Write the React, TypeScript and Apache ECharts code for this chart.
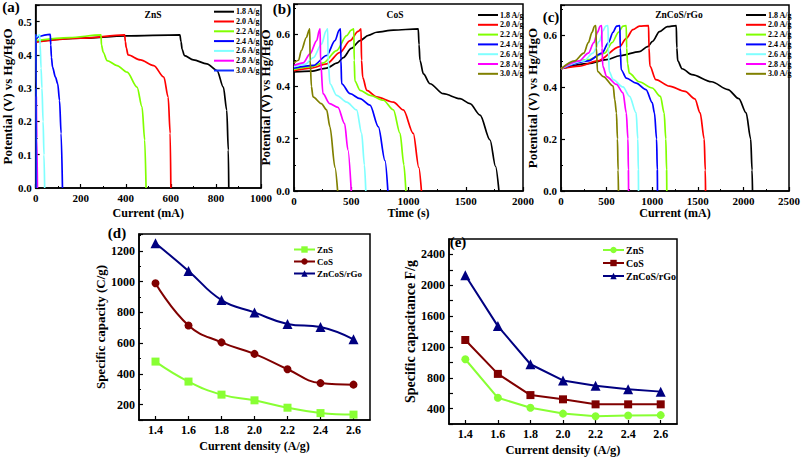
import React, { useEffect, useRef } from 'react';
import * as echarts from 'echarts';

const FONT = '"Liberation Serif", "Times New Roman", serif';

const rateLabels = ['1.8 A/g', '2.0 A/g', '2.2 A/g', '2.4 A/g', '2.6 A/g', '2.8 A/g', '3.0 A/g'];
const colorsA = ['#000000', '#ff0000', '#80ff00', '#0000ff', '#80ffff', '#ff00ff', '#1030ff'];
const colorsBC = ['#000000', '#ff0000', '#80ff00', '#0000ff', '#80ffff', '#ff00ff', '#808000'];

// (a) ZnS  [current (mA), potential (V)]
const a18 = [[0, 0.44], [200, 0.45], [400, 0.457], [640, 0.46], [645, 0.44], [650, 0.417], [660, 0.398], [700, 0.385], [760, 0.373], [805, 0.353], [833, 0.303], [848, 0.234], [855, 0.114], [857, 0]];
const a20 = [[0, 0.438], [200, 0.45], [395, 0.46], [398, 0.44], [402, 0.422], [410, 0.4], [465, 0.385], [524, 0.368], [569, 0.333], [588, 0.273], [597, 0.164], [600, 0]];
const a22 = [[0, 0.443], [150, 0.452], [290, 0.46], [292, 0.43], [300, 0.408], [317, 0.383], [361, 0.368], [406, 0.348], [450, 0.303], [472, 0.244], [484, 0.144], [490, 0]];
const a24 = [[0, 0.452], [65, 0.462], [67, 0.43], [70, 0.393], [75, 0.363], [88, 0.333], [98, 0.313], [106, 0.263], [113, 0.164], [119, 0]];
const a26 = [[0, 0.452], [18, 0.46], [20, 0.43], [24, 0.36], [28, 0.3], [33, 0.2], [37, 0.1], [40, 0]];
const a28 = [[3, 0.275], [5, 0.15], [8, 0]];
const a30 = [[1, 0.462], [2, 0.3], [3, 0]];

// (b) CoS  [time (s), potential (V)]
const b18 = [[0, 0.455], [150, 0.458], [285, 0.47], [380, 0.49], [431, 0.51], [500, 0.545], [577, 0.575], [650, 0.595], [722, 0.607], [868, 0.615], [1085, 0.62], [1092, 0.56], [1100, 0.5], [1130, 0.448], [1188, 0.41], [1304, 0.372], [1450, 0.353], [1537, 0.334], [1625, 0.29], [1712, 0.195], [1760, 0.094], [1790, 0]];
const b20 = [[0, 0.46], [150, 0.47], [285, 0.486], [402, 0.53], [490, 0.575], [560, 0.61], [585, 0.62], [590, 0.5], [600, 0.435], [635, 0.385], [722, 0.36], [868, 0.34], [955, 0.31], [1042, 0.22], [1090, 0.09], [1113, 0]];
const b22 = [[0, 0.465], [150, 0.475], [256, 0.49], [372, 0.537], [460, 0.594], [500, 0.615], [522, 0.62], [526, 0.5], [532, 0.42], [577, 0.385], [664, 0.366], [780, 0.347], [868, 0.31], [926, 0.22], [960, 0.1], [977, 0]];
const b24 = [[0, 0.47], [169, 0.48], [285, 0.518], [358, 0.575], [395, 0.615], [406, 0.62], [410, 0.5], [416, 0.41], [490, 0.372], [577, 0.353], [664, 0.328], [737, 0.245], [795, 0.116], [820, 0]];
const b26 = [[0, 0.475], [100, 0.485], [169, 0.51], [241, 0.562], [280, 0.612], [294, 0.62], [298, 0.5], [314, 0.41], [372, 0.366], [460, 0.34], [547, 0.31], [591, 0.22], [615, 0.1], [627, 0]];
const b28 = [[0, 0.48], [80, 0.49], [140, 0.524], [198, 0.575], [222, 0.615], [228, 0.62], [232, 0.5], [253, 0.372], [311, 0.334], [384, 0.32], [442, 0.258], [471, 0.157], [500, 0]];
const b30 = [[0, 0.49], [40, 0.5], [64, 0.537], [108, 0.587], [132, 0.615], [137, 0.62], [141, 0.5], [152, 0.4], [166, 0.36], [239, 0.334], [285, 0.31], [314, 0.245], [358, 0.09], [381, 0]];

// (c) ZnCoS/rGo  [current (mA), potential (V)]
const c18 = [[0, 0.47], [300, 0.49], [500, 0.505], [644, 0.52], [860, 0.536], [950, 0.555], [1004, 0.575], [1080, 0.613], [1166, 0.632], [1264, 0.636], [1270, 0.55], [1280, 0.5], [1328, 0.47], [1436, 0.447], [1650, 0.42], [1830, 0.39], [1950, 0.355], [2030, 0.3], [2080, 0.2], [2095, 0.08], [2100, 0]];
const c20 = [[0, 0.47], [200, 0.48], [400, 0.5], [644, 0.555], [716, 0.587], [788, 0.62], [860, 0.634], [960, 0.636], [965, 0.55], [975, 0.48], [1040, 0.428], [1188, 0.403], [1360, 0.383], [1468, 0.354], [1526, 0.3], [1570, 0.2], [1582, 0.08], [1585, 0]];
const c22 = [[0, 0.47], [300, 0.505], [480, 0.53], [560, 0.57], [630, 0.61], [680, 0.634], [715, 0.636], [720, 0.55], [730, 0.49], [749, 0.453], [857, 0.42], [1000, 0.396], [1090, 0.364], [1131, 0.3], [1149, 0.2], [1158, 0.08], [1160, 0]];
const c24 = [[0, 0.47], [300, 0.5], [450, 0.53], [520, 0.57], [570, 0.61], [610, 0.634], [645, 0.636], [650, 0.55], [660, 0.466], [716, 0.434], [824, 0.415], [932, 0.39], [1000, 0.34], [1025, 0.3], [1048, 0.2], [1056, 0.08], [1058, 0]];
const c26 = [[0, 0.47], [250, 0.5], [350, 0.53], [420, 0.575], [460, 0.615], [490, 0.634], [515, 0.636], [520, 0.55], [528, 0.46], [572, 0.428], [680, 0.4], [752, 0.364], [824, 0.3], [842, 0.2], [848, 0.08], [850, 0]];
const c28 = [[0, 0.47], [200, 0.5], [300, 0.53], [360, 0.57], [400, 0.61], [430, 0.634], [446, 0.636], [450, 0.55], [458, 0.48], [500, 0.44], [608, 0.41], [680, 0.377], [716, 0.3], [734, 0.2], [739, 0.08], [741, 0]];
const c30 = [[0, 0.47], [150, 0.5], [250, 0.53], [300, 0.57], [340, 0.61], [368, 0.634], [382, 0.636], [388, 0.55], [400, 0.46], [464, 0.44], [572, 0.403], [590, 0.35], [608, 0.3], [619, 0.2], [626, 0.08], [630, 0]];

// (d), (e)
const currentDensity = ['1.4', '1.6', '1.8', '2.0', '2.2', '2.4', '2.6'];
const capacityZnS = [480, 350, 265, 228, 180, 145, 135];
const capacityCoS = [990, 715, 605, 530, 430, 340, 330];
const capacityZnCoS = [1250, 1070, 880, 800, 725, 705, 625];
const capacitanceZnS = [1040, 540, 410, 335, 300, 310, 315];
const capacitanceCoS = [1290, 850, 575, 520, 455, 455, 455];
const capacitanceZnCoS = [2130, 1470, 975, 765, 695, 650, 620];

const matColors = { ZnS: '#88ff33', CoS: '#800000', ZnCoS: '#000080' };

const stepFmt = (step: number, dec: number) => (v: number) =>
  Math.abs(v / step - Math.round(v / step)) < 1e-6 ? v.toFixed(dec) : '';

const labelStyle = (fontSize: number) => ({
  color: '#000', fontFamily: FONT, fontWeight: 'bold', fontSize, margin: 4,
});

const axisBase = (fontSize: number, name: string, nameSize: number, nameGap: number) => ({
  name,
  nameLocation: 'middle',
  nameGap,
  nameTextStyle: { color: '#000', fontFamily: FONT, fontWeight: 'bold', fontSize: nameSize },
  axisLine: { show: true, onZero: false, lineStyle: { color: '#000', width: 1.5 } },
  axisTick: { show: true, inside: true, length: 4, lineStyle: { color: '#000', width: 1.2 } },
  minorTick: { show: true, splitNumber: 2, length: 2, lineStyle: { color: '#000', width: 1 } },
  splitLine: { show: false },
  minorSplitLine: { show: false },
  axisLabel: labelStyle(fontSize),
});

const gridBase = { show: true, borderColor: '#000', borderWidth: 1.5, containLabel: false };

const gcdSeries = (curves: number[][][], colors: string[], tag: string, idx: number) =>
  curves.map((data, i) => ({
    type: 'line',
    name: tag + '|' + rateLabels[i],
    xAxisIndex: idx,
    yAxisIndex: idx,
    data,
    symbol: 'none',
    smooth: 0.3,
    smoothMonotone: 'x',
    lineStyle: { color: colors[i], width: 1.7 },
    itemStyle: { color: colors[i] },
    z: 2 + i,
  }));

const gcdLegend = (tag: string, left: number, top: number) => ({
  orient: 'vertical',
  left,
  top,
  padding: 0,
  itemWidth: 20,
  itemHeight: 8,
  itemGap: 1.8,
  itemStyle: { opacity: 0 },
  data: rateLabels.map((r) => tag + '|' + r),
  formatter: (n: string) => n.split('|')[1],
  textStyle: { color: '#000', fontFamily: FONT, fontWeight: 'bold', fontSize: 8, padding: [0, 0, 0, -3] },
});

const matLegend = (tag: string, left: number, top: number, fontSize: number) => ({
  orient: 'vertical',
  left,
  top,
  padding: 0,
  itemWidth: 21,
  itemHeight: 8,
  itemGap: 3,
  data: ['ZnS', 'CoS', 'ZnCoS/rGo'].map((r) => tag + '|' + r),
  formatter: (n: string) => n.split('|')[1],
  textStyle: { color: '#000', fontFamily: FONT, fontWeight: 'bold', fontSize, padding: [0, 0, 0, -3] },
});

const matSeries = (
  vals: number[][],
  names: string[],
  symbols: string[],
  colors: string[],
  tag: string,
  idx: number,
  smooth: boolean
) =>
  vals.map((data, i) => ({
    type: 'line',
    name: tag + '|' + names[i],
    xAxisIndex: idx,
    yAxisIndex: idx,
    data,
    symbol: symbols[i],
    symbolSize: symbols[i] === 'triangle' ? 10 : 8,
    smooth: smooth ? 0.45 : false,
    lineStyle: { color: colors[i], width: 2 },
    itemStyle: { color: colors[i] },
  }));

const txt = (text: string, x: number, y: number, size: number) => ({
  type: 'text',
  x,
  y,
  style: {
    text,
    fill: '#000',
    font: `bold ${size}px ${FONT}`,
    textAlign: 'center',
    textVerticalAlign: 'middle',
    align: 'center',
    verticalAlign: 'middle',
  },
});

const plain = (v: number) => String(Math.round(v));

export default function App() {
  const ref = useRef<HTMLDivElement>(null);
  useEffect(() => {
    const chart = echarts.init(ref.current!, null, { renderer: 'svg' });
    const option: any = {
      animation: false,
      backgroundColor: '#fff',
      grid: [
        { ...gridBase, left: 35, top: 5, width: 226, height: 183 },
        { ...gridBase, left: 294, top: 4, width: 229, height: 187 },
        { ...gridBase, left: 561, top: 5, width: 232, height: 186 },
        { ...gridBase, left: 139, top: 234, width: 231, height: 186 },
        { ...gridBase, left: 449, top: 239, width: 228, height: 185 },
      ],
      xAxis: [
        {
          ...axisBase(11, 'Current (mA)', 12, 19), type: 'value', gridIndex: 0, min: 0, max: 1000, interval: 200,
          axisLabel: { ...labelStyle(11), formatter: plain },
        },
        {
          ...axisBase(11, 'Time (s)', 12, 16), type: 'value', gridIndex: 1, min: 0, max: 2000, interval: 500,
          axisLabel: { ...labelStyle(11), formatter: plain },
        },
        {
          ...axisBase(11, 'Current (mA)', 12, 16), type: 'value', gridIndex: 2, min: 0, max: 2500, interval: 500,
          axisLabel: { ...labelStyle(11), formatter: plain },
        },
        {
          ...axisBase(12, 'Current density (A/g)', 12, 20),
          type: 'category',
          gridIndex: 3,
          data: currentDensity,
          boundaryGap: true,
          axisTick: { show: true, inside: true, alignWithLabel: true, length: 4, lineStyle: { color: '#000', width: 1.2 } },
        },
        {
          ...axisBase(12, 'Current density (A/g)', 12.5, 19),
          type: 'category',
          gridIndex: 4,
          data: currentDensity,
          boundaryGap: true,
          axisTick: { show: true, inside: true, alignWithLabel: true, length: 4, lineStyle: { color: '#000', width: 1.2 } },
        },
      ],
      yAxis: [
        {
          ...axisBase(11, 'Potential (V) vs Hg/HgO', 13, 17),
          type: 'value', gridIndex: 0, min: 0, max: 0.55, interval: 0.1,
          axisLabel: { ...labelStyle(11), formatter: stepFmt(0.1, 1) },
        },
        {
          ...axisBase(11, 'Potential (V) vs Hg/HgO', 13, 16),
          type: 'value', gridIndex: 1, min: 0, max: 0.715, interval: 0.2,
          axisLabel: { ...labelStyle(11), formatter: stepFmt(0.2, 1) },
        },
        {
          ...axisBase(11, 'Potentital (V) vs Hg/HgO', 13, 19),
          type: 'value', gridIndex: 2, min: 0, max: 0.715, interval: 0.2,
          axisLabel: { ...labelStyle(11), formatter: stepFmt(0.2, 1) },
        },
        {
          ...axisBase(12, 'Specific capacity (C/g)', 13, 31),
          type: 'value', gridIndex: 3, min: 100, max: 1310, splitNumber: 6,
          axisLabel: { ...labelStyle(12), formatter: stepFmt(200, 0) },
        },
        {
          ...axisBase(12, 'Specific capacitance F/g', 14, 32),
          type: 'value', gridIndex: 4, min: 200, max: 2600, interval: 200,
          minorTick: { show: false },
          axisLabel: { ...labelStyle(12), formatter: stepFmt(400, 0) },
        },
      ],
      legend: [
        gcdLegend('a', 213, 7.7),
        gcdLegend('b', 477, 11),
        gcdLegend('c', 745, 11),
        matLegend('d', 293, 245, 9),
        matLegend('e', 602, 245, 10),
      ],
      series: [
        ...gcdSeries([a18, a20, a22, a24, a26, a28, a30], colorsA, 'a', 0),
        ...gcdSeries([b18, b20, b22, b24, b26, b28, b30], colorsBC, 'b', 1),
        ...gcdSeries([c18, c20, c22, c24, c26, c28, c30], colorsBC, 'c', 2),
        ...matSeries(
          [capacityZnS, capacityCoS, capacityZnCoS],
          ['ZnS', 'CoS', 'ZnCoS/rGo'],
          ['rect', 'circle', 'triangle'],
          [matColors.ZnS, matColors.CoS, matColors.ZnCoS],
          'd', 3, true
        ),
        ...matSeries(
          [capacitanceZnS, capacitanceCoS, capacitanceZnCoS],
          ['ZnS', 'CoS', 'ZnCoS/rGo'],
          ['circle', 'rect', 'triangle'],
          [matColors.ZnS, matColors.CoS, matColors.ZnCoS],
          'e', 4, false
        ),
      ],
      graphic: [
        txt('(a)', 11, 7, 15),
        txt('(b)', 282, 9, 15),
        txt('(c)', 551, 17, 15),
        txt('(d)', 117, 233, 15),
        txt('(e)', 458, 242, 15),
        txt('ZnS', 153, 15, 9.5),
        txt('CoS', 395, 15, 9.5),
        txt('ZnCoS/rGo', 679, 15, 9.5),
      ],
    };
    chart.setOption(option);
    return () => chart.dispose();
  }, []);
  return <div ref={ref} style={{ width: 803, height: 459, position: 'absolute', left: 0, top: 0 }} />;
}
